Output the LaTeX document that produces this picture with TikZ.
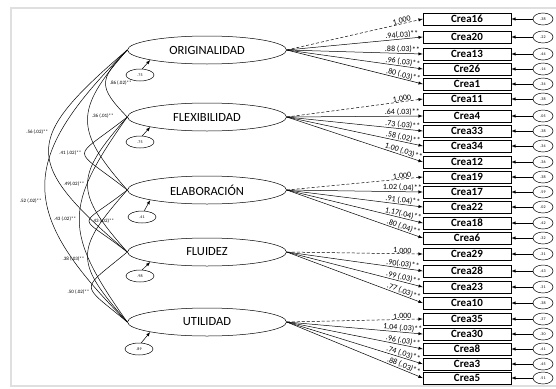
\documentclass[tikz,border=0pt]{standalone}
\usepackage{fontspec}
\setmainfont{Carlito}
\usetikzlibrary{shapes.geometric}

\begin{document}
\begin{tikzpicture}[x=1pt,y=-1pt,>=latex,line width=0.5pt,
    factor/.style={draw,ellipse,minimum width=159pt,minimum height=28pt,inner sep=0pt,font=\fontsize{12.5}{14}\selectfont},
    dist/.style={draw,ellipse,minimum width=28pt,minimum height=12pt,inner sep=0pt,font=\fontsize{4}{5}\selectfont},
    indic/.style={draw,rectangle,minimum width=88pt,minimum height=11.5pt,inner sep=0pt,font=\fontsize{11}{12}\selectfont\bfseries},
    resid/.style={draw,ellipse,minimum width=20pt,minimum height=12pt,inner sep=0pt,font=\fontsize{4}{5}\selectfont},
    load/.style={above,sloped,pos=0.85,inner sep=0.3pt,font=\fontsize{8}{9}\selectfont},
    corr/.style={inner sep=1pt,font=\fontsize{5}{6}\selectfont}]
    \useasboundingbox (0,0) rectangle (556,388);
    \draw[gray!25,line width=1.5pt] (11,8) rectangle (570,386);

    % factores
    \node[factor] (orig) at (207,50) {ORIGINALIDAD};
    \node[factor] (flex) at (207,117) {FLEXIBILIDAD};
    \node[factor] (elab) at (207,190) {ELABORACIÓN};
    \node[factor] (flui) at (207,252) {FLUIDEZ};
    \node[factor] (util) at (207,322) {UTILIDAD};

    \node[dist] (dorig) at (140,75) {.75};
    \node[dist] (dflex) at (140,142) {.75};
    \node[dist] (delab) at (142,217) {.41};
    \node[dist] (dflui) at (140,276) {.98};
    \node[dist] (dutil) at (139,349) {.89};
    \draw[->] (dorig.70) -- (orig.190);
    \draw[->] (dflex.70) -- (flex.190);
    \draw[->] (delab.70) -- (elab.190);
    \draw[->] (dflui.70) -- (flui.190);
    \draw[->] (dutil.70) -- (util.190);

    % correlaciones
    \draw (orig.west) .. controls +(-29,30) and +(-29,-30) .. node[corr,right=3pt] (r1) {.86 (.02)**} (flex.west);
    \draw (orig.west) .. controls +(-53,60) and +(-53,-60) .. node[corr,right=3pt,pos=0.47] (r2) {.36 (.01)**} (elab.west);
    \draw (orig.west) .. controls +(-105,90) and +(-105,-90) .. node[corr,left=3pt,pos=0.39] (r3) {.56 (.02)**} (flui.west);
    \draw (orig.west) .. controls +(-110,110) and +(-110,-110) .. node[corr,left=3pt,pos=0.56] (r4) {.52 (.02)**} (util.west);
    \draw (flex.west) .. controls +(-57,45) and +(-57,-45) .. node[corr,left=2pt] (r5) {.41 (.02)**} (elab.west);
    \draw (flex.west) .. controls +(-53,60) and +(-53,-60) .. node[corr,left=2pt] (r6) {.49(.02)**} (flui.west);
    \draw (flex.west) .. controls +(-64,90) and +(-64,-90) .. node[corr,left=2pt] (r7) {.43 (.02)**} (util.west);
    \draw (elab.west) .. controls +(-51,40) and +(-51,-40) .. node[corr,right=2pt] (r8) {.43 (.02)**} (flui.west);
    \draw (elab.west) .. controls +(-53,60) and +(-53,-60) .. node[corr,left=2pt,pos=0.53] (r9) {.38 (.03)**} (util.west);
    \draw (flui.west) .. controls +(-48,40) and +(-48,-40) .. node[corr,left=2pt,pos=0.6] (r10) {.50 (.02)**} (util.west);

    % indicadores
    \node[indic] (c16) at (467,19) {Crea16};
    \node[indic] (c20) at (467,37) {Crea20};
    \node[indic] (c13) at (467,54) {Crea13};
    \node[indic] (c26) at (467,69) {Cre26};
    \node[indic] (c1) at (467,84) {Crea1};
    \node[indic] (c11) at (467,99) {Crea11};
    \node[indic] (c4) at (467,116) {Crea4};
    \node[indic] (c33) at (467,131) {Crea33};
    \node[indic] (c34) at (467,146) {Crea34};
    \node[indic] (c12) at (467,162) {Crea12};
    \node[indic] (c19) at (467,177) {Crea19};
    \node[indic] (c17) at (467,192) {Crea17};
    \node[indic] (c22) at (467,207) {Crea22};
    \node[indic] (c18) at (467,223) {Crea18};
    \node[indic] (c6) at (467,238) {Crea6};
    \node[indic] (c29) at (467,254) {Crea29};
    \node[indic] (c28) at (467,271) {Crea28};
    \node[indic] (c23) at (467,287) {Crea23};
    \node[indic] (c10) at (467,303) {Crea10};
    \node[indic] (c35) at (467,319) {Crea35};
    \node[indic] (c30) at (467,334) {Crea30};
    \node[indic] (c8) at (467,349) {Crea8};
    \node[indic] (c3) at (467,364) {Crea3};
    \node[indic] (c5) at (467,378) {Crea5};

    % errores
    \node[resid] (e16) at (543,19) {.38};
    \node[resid] (e20) at (543,37) {.22};
    \node[resid] (e13) at (543,54) {.44};
    \node[resid] (e26) at (543,69) {.14};
    \node[resid] (e1) at (543,84) {.34};
    \node[resid] (e11) at (543,99) {.38};
    \node[resid] (e4) at (543,116) {.05};
    \node[resid] (e33) at (543,131) {.38};
    \node[resid] (e34) at (543,146) {.34};
    \node[resid] (e12) at (543,162) {.36};
    \node[resid] (e19) at (543,177) {.38};
    \node[resid] (e17) at (543,192) {.59};
    \node[resid] (e22) at (543,207) {.02};
    \node[resid] (e18) at (543,223) {.42};
    \node[resid] (e6) at (543,238) {.32};
    \node[resid] (e29) at (543,254) {.31};
    \node[resid] (e28) at (543,271) {.43};
    \node[resid] (e23) at (543,287) {.31};
    \node[resid] (e10) at (543,303) {.38};
    \node[resid] (e35) at (543,319) {.37};
    \node[resid] (e30) at (543,334) {.30};
    \node[resid] (e8) at (543,349) {.41};
    \node[resid] (e3) at (543,364) {.45};
    \node[resid] (e5) at (543,378) {.51};

    \draw[->] (e16) -- (c16); \draw[->] (e20) -- (c20); \draw[->] (e13) -- (c13);
    \draw[->] (e26) -- (c26); \draw[->] (e1) -- (c1); \draw[->] (e11) -- (c11);
    \draw[->] (e4) -- (c4); \draw[->] (e33) -- (c33); \draw[->] (e34) -- (c34);
    \draw[->] (e12) -- (c12); \draw[->] (e19) -- (c19); \draw[->] (e17) -- (c17);
    \draw[->] (e22) -- (c22); \draw[->] (e18) -- (c18); \draw[->] (e6) -- (c6);
    \draw[->] (e29) -- (c29); \draw[->] (e28) -- (c28); \draw[->] (e23) -- (c23);
    \draw[->] (e10) -- (c10); \draw[->] (e35) -- (c35); \draw[->] (e30) -- (c30);
    \draw[->] (e8) -- (c8); \draw[->] (e3) -- (c3); \draw[->] (e5) -- (c5);

    % cargas
    \draw[->,densely dashed] (orig.east) -- node[load] {1.000} (c16.west);
    \draw[->] (orig.east) -- node[load] {.94(.03)**} (c20.west);
    \draw[->] (orig.east) -- node[load] {.88 (.03)**} (c13.west);
    \draw[->] (orig.east) -- node[load] {.96 (.03)**} (c26.west);
    \draw[->] (orig.east) -- node[load] {.80 (.03)**} (c1.west);

    \draw[->,densely dashed] (flex.east) -- node[load] {1.000} (c11.west);
    \draw[->] (flex.east) -- node[load] {.64 (.03)**} (c4.west);
    \draw[->] (flex.east) -- node[load] {.73 (.03)**} (c33.west);
    \draw[->] (flex.east) -- node[load] {.58 (.02)**} (c34.west);
    \draw[->] (flex.east) -- node[load] {1.00 (.03)**} (c12.west);

    \draw[->,densely dashed] (elab.east) -- node[load] {1.000} (c19.west);
    \draw[->] (elab.east) -- node[load] {1.02 (.04)**} (c17.west);
    \draw[->] (elab.east) -- node[load] {.91 (.04)**} (c22.west);
    \draw[->] (elab.east) -- node[load] {1.17(.04)**} (c18.west);
    \draw[->] (elab.east) -- node[load] {.80 (.04)**} (c6.west);

    \draw[->,densely dashed] (flui.east) -- node[load] {1.000} (c29.west);
    \draw[->] (flui.east) -- node[load] {.90(.03)**} (c28.west);
    \draw[->] (flui.east) -- node[load] {.99 (.03)**} (c23.west);
    \draw[->] (flui.east) -- node[load] {.77 (.03)**} (c10.west);

    \draw[->,densely dashed] (util.east) -- node[load] {1.000} (c35.west);
    \draw[->] (util.east) -- node[load] {1.04 (.03)**} (c30.west);
    \draw[->] (util.east) -- node[load] {.96 (.03)**} (c8.west);
    \draw[->] (util.east) -- node[load] {.74 (.03)**} (c3.west);
    \draw[->] (util.east) -- node[load] {.88 (.03)**} (c5.west);
\end{tikzpicture}
\end{document}
